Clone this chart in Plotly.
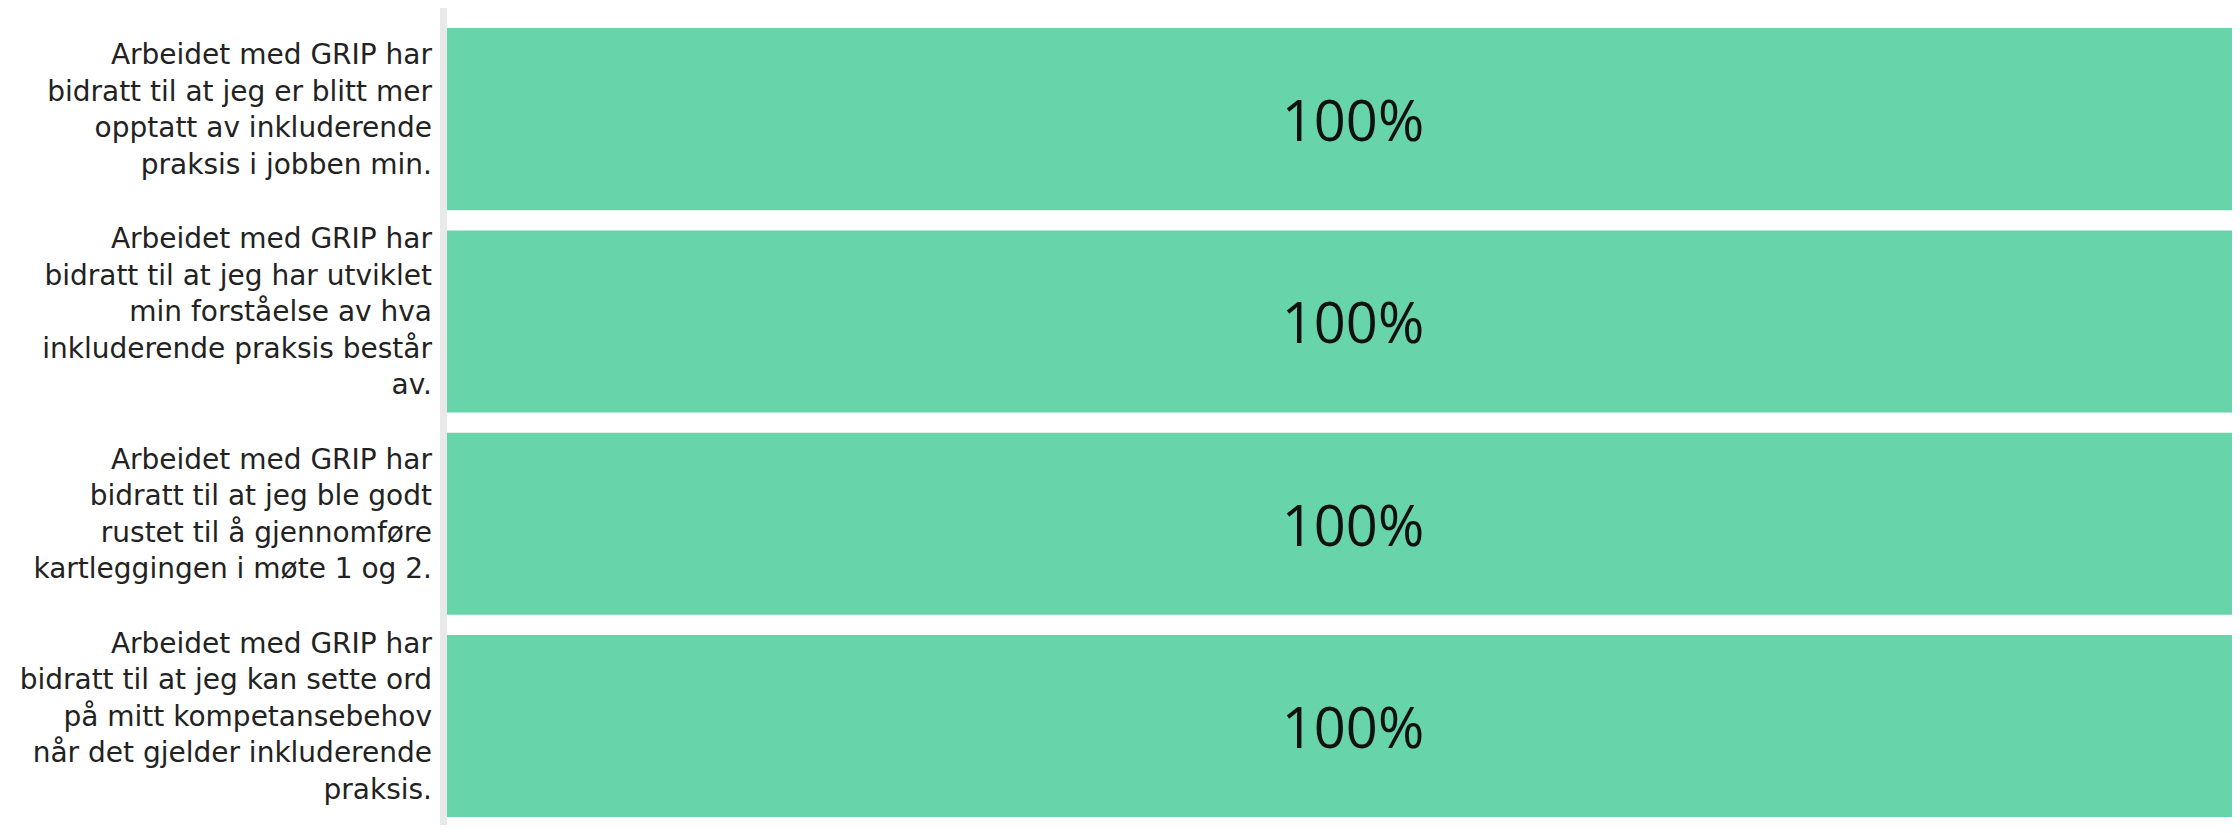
import plotly.graph_objects as go

categories = [
    "Arbeidet med GRIP har<br>bidratt til at jeg er blitt mer<br>opptatt av inkluderende<br>praksis i jobben min.",
    "Arbeidet med GRIP har<br>bidratt til at jeg har utviklet<br>min forståelse av hva<br>inkluderende praksis består<br>av.",
    "Arbeidet med GRIP har<br>bidratt til at jeg ble godt<br>rustet til å gjennomføre<br>kartleggingen i møte 1 og 2.",
    "Arbeidet med GRIP har<br>bidratt til at jeg kan sette ord<br>på mitt kompetansebehov<br>når det gjelder inkluderende<br>praksis.",
]
values = [100, 100, 100, 100]
labels = [f"{v}%" for v in values]

# page has an 8px body margin; figure coords = page coords - 8
W, H = 2251, 817
ML, MR, MT = 439, 0, 10
PH = 803
MB = H - MT - PH
pw = W - ML - MR

fig = go.Figure(go.Bar(
    x=values, y=categories, orientation="h",
    marker=dict(color="#67d4a9", line=dict(width=0)),
    text=labels, textposition="inside", insidetextanchor="middle",
    textfont=dict(family="Open Sans", size=56, color="#111111"),
    hoverinfo="skip",
))

fig.update_layout(
    width=W, height=H,
    margin=dict(l=ML, r=MR, t=MT, b=MB),
    paper_bgcolor="white", plot_bgcolor="white",
    bargap=0.1, showlegend=False,
    font=dict(family="DejaVu Sans", size=28, color="#222222"),
)
fig.update_xaxes(range=[0, 100], visible=False, fixedrange=True)
fig.update_yaxes(range=[3.47, -0.5], showgrid=False, zeroline=False,
                 showline=False, ticks="", ticklabelstandoff=14,
                 ticklabelshift=10,
                 tickfont=dict(family="DejaVu Sans", size=28, color="#222222"))

fig.add_shape(type="rect", xref="paper", yref="paper",
              x0=-7 / pw, x1=0, y0=-(MB + 10) / PH, y1=1 + (MT - 0) / PH,
              fillcolor="#e9e9e9", line=dict(width=0), layer="below")

fig.write_html(
    "out.html",
    post_script="document.documentElement.style.overflow='hidden';",
)
